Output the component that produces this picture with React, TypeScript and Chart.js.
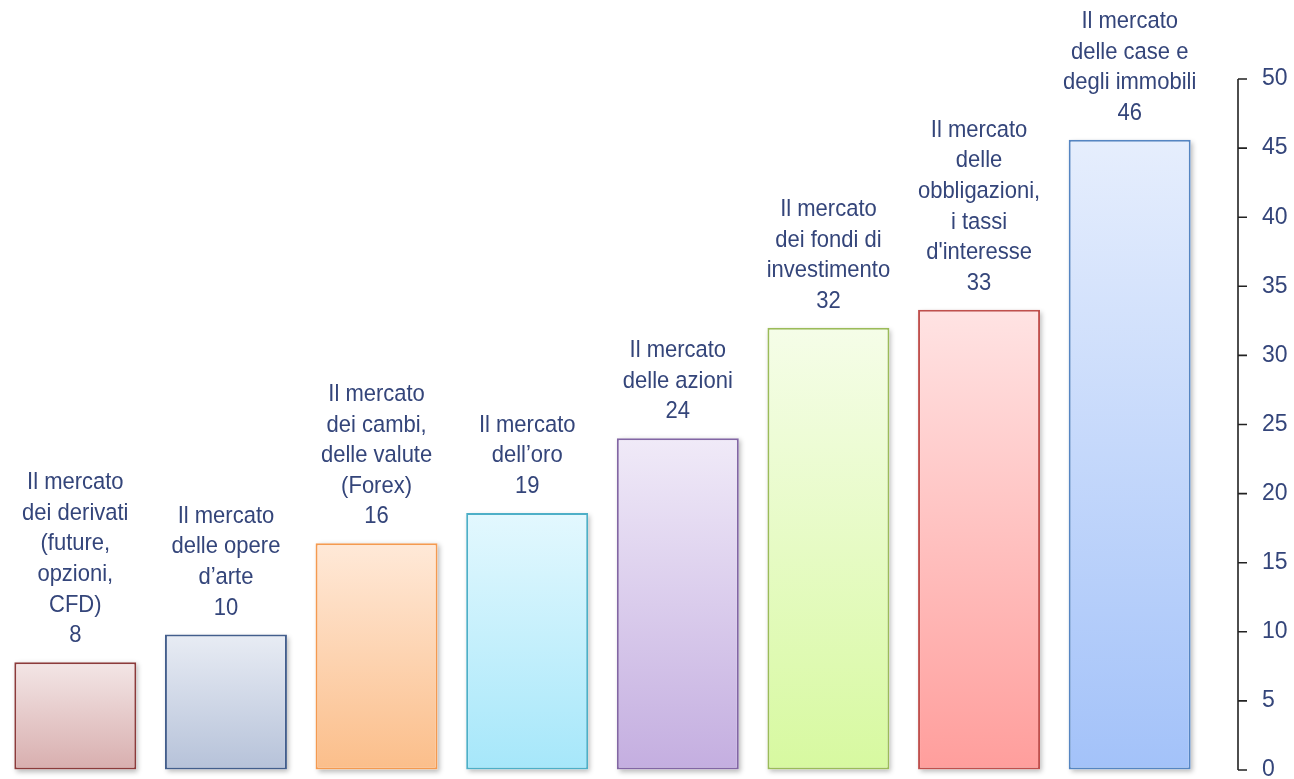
import React, { useEffect, useRef } from "react";
import { Chart, registerables } from "chart.js";

Chart.register(...registerables);

const categories = [
  "Il mercato dei derivati (future, opzioni, CFD)",
  "Il mercato delle opere d’arte",
  "Il mercato dei cambi, delle valute (Forex)",
  "Il mercato dell’oro",
  "Il mercato delle azioni",
  "Il mercato dei fondi di investimento",
  "Il mercato delle obbligazioni, i tassi d'interesse",
  "Il mercato delle case e degli immobili",
];

const labelLines = [
  ["Il mercato", "dei derivati", "(future,", "opzioni,", "CFD)"],
  ["Il mercato", "delle opere", "d’arte"],
  ["Il mercato", "dei cambi,", "delle valute", "(Forex)"],
  ["Il mercato", "dell’oro"],
  ["Il mercato", "delle azioni"],
  ["Il mercato", "dei fondi di", "investimento"],
  ["Il mercato", "delle", "obbligazioni,", "i tassi", "d'interesse"],
  ["Il mercato", "delle case e", "degli immobili"],
];

const values = [7.8, 9.8, 16.4, 18.6, 24.0, 32.0, 33.3, 45.6];
const valueLabels = ["8", "10", "16", "19", "24", "32", "33", "46"];

const yMin = 0;
const yMax = 50;
const yStep = 5;

const fillTop = ["#F3E6E6", "#E8ECF4", "#FFE9D8", "#E3F8FE", "#F0EAF8", "#F5FDE8", "#FFE3E3", "#E6EEFD"];
const fillBottom = ["#D8AEAE", "#B6C2D9", "#FBBE8A", "#A6E7FA", "#C4AEE0", "#D7F9A0", "#FF9E9C", "#A3C2F9"];
const borderColors = ["#8C3B3B", "#435E8C", "#F49A50", "#4DAFC7", "#8266A4", "#9BBB59", "#C0504D", "#5585C2"];

const TEXT_COLOR = "#34457A";

export default function App() {
  const canvasRef = useRef<HTMLCanvasElement | null>(null);

  useEffect(() => {
    const canvas = canvasRef.current;
    if (!canvas) return;

    const shadowPlugin = {
      id: "barShadow",
      beforeDatasetsDraw(chart: any) {
        const ctx = chart.ctx;
        const meta = chart.getDatasetMeta(0);
        ctx.save();
        meta.data.forEach((el: any) => {
          ctx.shadowColor = "rgba(0,0,0,0.28)";
          ctx.shadowBlur = 5;
          ctx.shadowOffsetX = 2;
          ctx.shadowOffsetY = 2;
          ctx.fillStyle = "#ffffff";
          ctx.fillRect(el.x - el.width / 2, el.y, el.width, el.base - el.y);
        });
        ctx.restore();
      },
    };

    const labelPlugin = {
      id: "barLabels",
      afterDatasetsDraw(chart: any) {
        const ctx = chart.ctx;
        const meta = chart.getDatasetMeta(0);
        ctx.save();
        ctx.fillStyle = TEXT_COLOR;
        ctx.font = "22px 'Liberation Sans', Arial, sans-serif";
        ctx.textAlign = "center";
        ctx.textBaseline = "alphabetic";
        const lineH = 30.6;
        meta.data.forEach((el: any, i: number) => {
          const lines = [...labelLines[i], valueLabels[i]];
          const baseY = el.y - 20;
          lines.forEach((ln, j) => {
            const y = baseY - (lines.length - 1 - j) * lineH;
            ctx.save();
            ctx.translate(el.x, y);
            ctx.scale(1, 1.12);
            ctx.fillText(ln, 0, 0);
            ctx.restore();
          });
        });
        ctx.restore();
      },
    };

    const axisPlugin = {
      id: "rightAxis",
      afterDraw(chart: any) {
        const ctx = chart.ctx;
        const ys = chart.scales.y;
        const x0 = chart.chartArea.right + 33;
        ctx.save();
        ctx.strokeStyle = "#222222";
        ctx.lineWidth = 1.6;
        ctx.beginPath();
        ctx.moveTo(x0, ys.getPixelForValue(yMin));
        ctx.lineTo(x0, ys.getPixelForValue(yMax));
        ys.ticks.forEach((t: any) => {
          const py = ys.getPixelForValue(t.value);
          ctx.moveTo(x0, py);
          ctx.lineTo(x0 + 9, py);
        });
        ctx.stroke();
        ctx.restore();
      },
    };

    const chart = new Chart(canvas, {
      type: "bar",
      data: {
        labels: categories,
        datasets: [
          {
            data: values,
            borderColor: borderColors,
            borderWidth: 2,
            borderSkipped: false,
            backgroundColor: (c: any) => {
              const ch = c.chart;
              const ys = ch.scales && ch.scales.y;
              const i = c.dataIndex;
              if (!ys || !ch.chartArea || i === undefined) return fillTop[i || 0];
              const top = ys.getPixelForValue(values[i]);
              const bottom = ys.getPixelForValue(0);
              const g = ch.ctx.createLinearGradient(0, top, 0, bottom);
              g.addColorStop(0, fillTop[i]);
              g.addColorStop(1, fillBottom[i]);
              return g;
            },
            categoryPercentage: 1,
            barPercentage: 0.81,
          },
        ],
      },
      options: {
        animation: false,
        responsive: false,
        maintainAspectRatio: false,
        layout: { padding: { top: 79, bottom: 20, left: 0, right: 0 } },
        plugins: {
          legend: { display: false },
          tooltip: { enabled: false },
          title: { display: false },
        },
        scales: {
          x: { display: false },
          y: {
            position: "right",
            min: yMin,
            max: yMax,
            grid: {
              display: true,
              drawOnChartArea: false,
              drawTicks: true,
              tickLength: 53,
              color: "rgba(0,0,0,0)",
            },
            border: { display: false },
            ticks: {
              stepSize: yStep,
              padding: 4,
              color: TEXT_COLOR,
              font: { family: "'Liberation Sans', Arial, sans-serif", size: 23 },
            },
            afterFit: (scale: any) => {
              scale.width = 89;
            },
          },
        },
      },
      plugins: [shadowPlugin, labelPlugin, axisPlugin],
    });

    return () => chart.destroy();
  }, []);

  return (
    <div style={{ position: "fixed", left: 0, top: 0, width: 1294, height: 790, background: "#ffffff" }}>
      <canvas ref={canvasRef} width={1294} height={790} style={{ width: 1294, height: 790, display: "block" }} />
    </div>
  );
}
